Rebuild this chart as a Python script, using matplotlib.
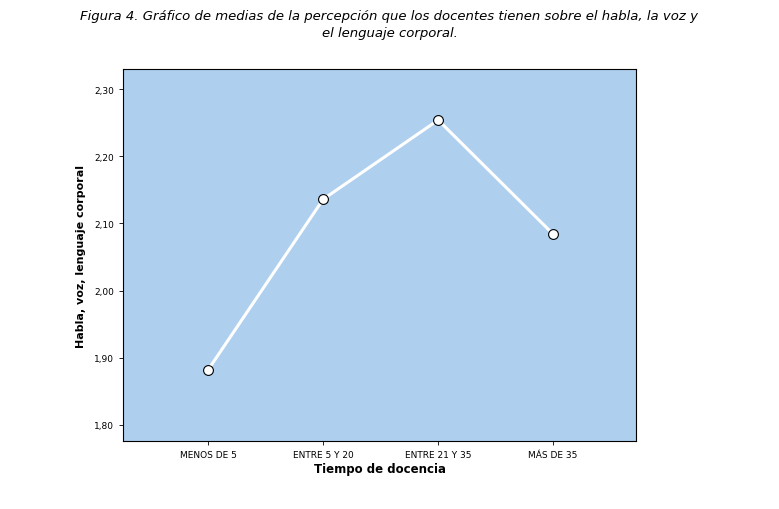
import matplotlib
matplotlib.use("Agg")
import matplotlib.pyplot as plt

categories = ["MENOS DE 5", "ENTRE 5 Y 20", "ENTRE 21 Y 35", "MÁS DE 35"]
means = [1.882, 2.136, 2.254, 2.084]
yticks = [1.80, 1.90, 2.00, 2.10, 2.20, 2.30]

fig = plt.figure(figsize=(7.79, 5.10), dpi=100)
ax = fig.add_axes([123 / 779, 1 - 442 / 510, 513 / 779, 372 / 510])
ax.set_facecolor("#aecfee")

x = list(range(len(categories)))
ax.plot(x, means, color="white", linewidth=2.2, zorder=2)
ax.scatter(x, means, s=50, facecolor="white", edgecolor="black", linewidth=0.8, zorder=3)

ax.set_xlim(-0.74, 3.72)
ax.set_ylim(1.776, 2.33)
ax.set_xticks(x)
ax.set_xticklabels(categories, fontsize=6.5)
ax.set_yticks(yticks)
ax.set_yticklabels([f"{v:.2f}".replace(".", ",") for v in yticks], fontsize=6.5)
ax.tick_params(length=3, width=0.6)
for s in ax.spines.values():
    s.set_linewidth(0.8)

ax.set_xlabel("Tiempo de docencia", fontsize=8.5, fontweight="bold", labelpad=2)
ax.set_ylabel("Habla, voz, lenguaje corporal", fontsize=8, fontweight="bold", labelpad=6)

fig.text(0.5, 1 - 25 / 510, "Figura 4. Gráfico de medias de la percepción que los docentes tienen sobre el habla, la voz y\nel lenguaje corporal.",
         ha="center", va="center", fontsize=9.5, style="italic", linespacing=1.45)

fig.savefig("out.png", dpi=100)
